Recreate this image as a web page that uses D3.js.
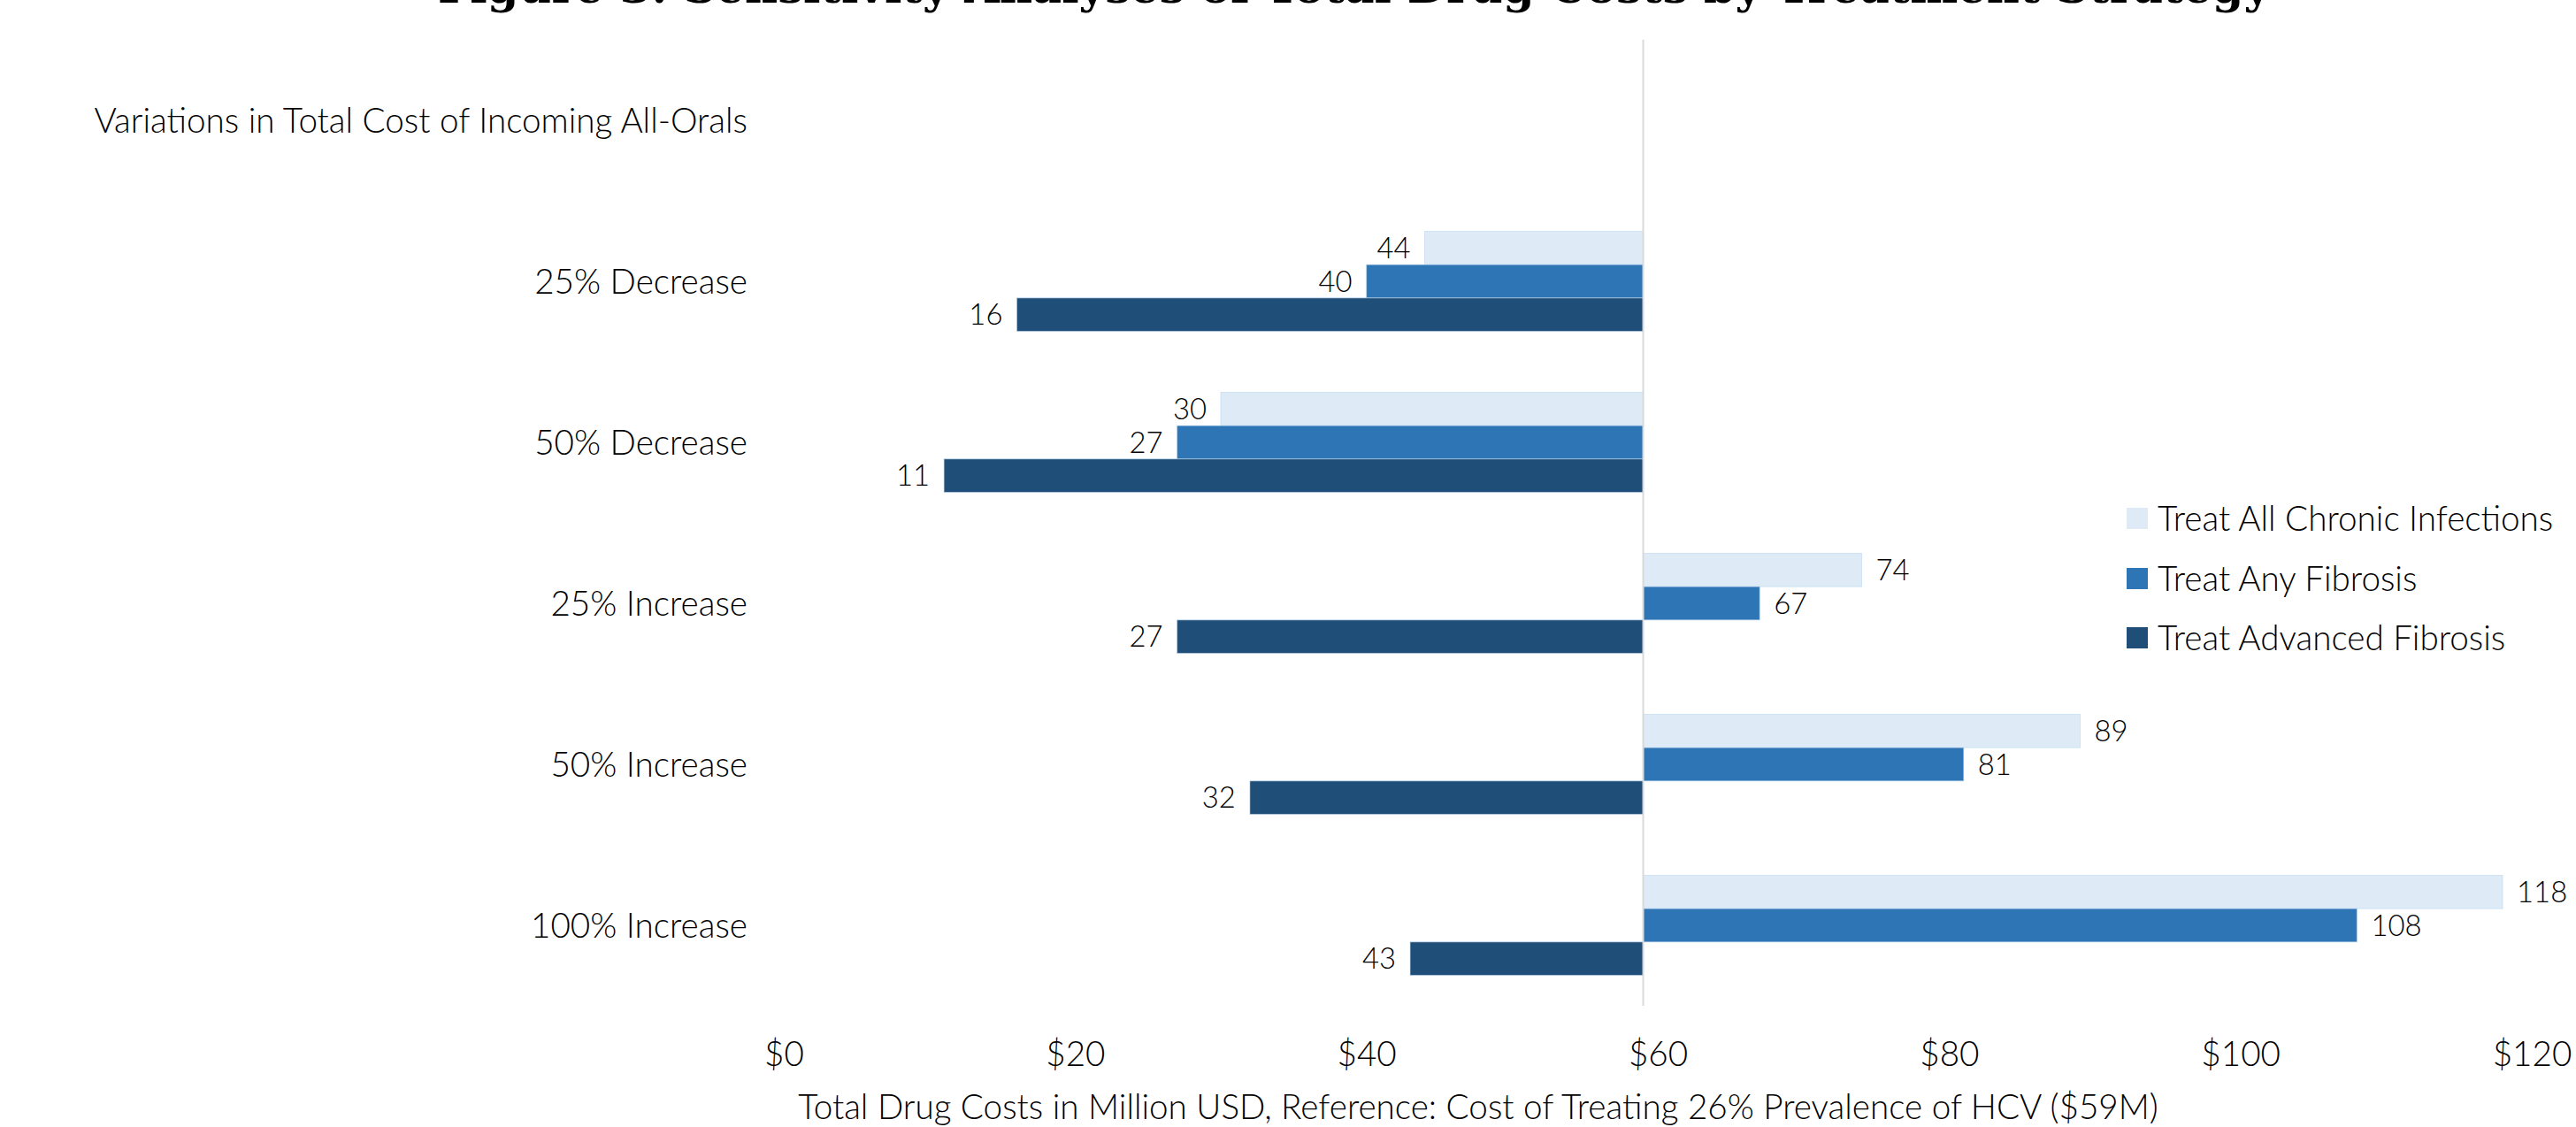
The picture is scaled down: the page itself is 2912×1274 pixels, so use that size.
<!DOCTYPE html>
<html><head><meta charset="utf-8">
<script src="https://cdn.jsdelivr.net/npm/d3@7"></script>
<style>
body{margin:0;background:#fff;}
svg{display:block;}
.lbl{font-family:Lato,"Open Sans",sans-serif;font-weight:300;fill:#000;}
.ttl{font-family:"DejaVu Serif",serif;font-weight:bold;fill:#000;}
</style>
</head><body>
<svg id="chart" width="2912" height="1274"></svg>
<script>
// ---------- data ----------
const chartTitle = "Figure 3: Sensitivity Analyses of Total Drug Costs by Treatment Strategy";
const categories = ["Variations in Total Cost of Incoming All-Orals","25% Decrease","50% Decrease","25% Increase","50% Increase","100% Increase"];
const seriesNames = ["Treat All Chronic Infections","Treat Any Fibrosis","Treat Advanced Fibrosis"];
const treatAllChronic = [null,44,30,74,89,118];
const treatAnyFibrosis = [null,40,27,67,81,108];
const treatAdvancedFibrosis = [null,16,11,27,32,43];
const referenceCost = 59;
const xTicks = [0,20,40,60,80,100,120];
const xAxisTitle = "Total Drug Costs in Million USD, Reference: Cost of Treating 26% Prevalence of HCV ($59M)";
const seriesColors = ["#DEEBF7","#2E75B6","#1F4E79"];

const seriesValues = [treatAllChronic, treatAnyFibrosis, treatAdvancedFibrosis];

// ---------- layout ----------
const svg = d3.select("#chart");
const x = d3.scaleLinear().domain([0,120]).range([886,2862]);
const y = d3.scaleBand().domain(categories).range([45,1137]).padding(0);
const y1 = d3.scaleBand().domain(seriesNames).range([0,y.bandwidth()]).paddingInner(0).paddingOuter(0.916);

// bars
const rows = [];
categories.forEach((c,ci)=>{
  seriesNames.forEach((s,si)=>{
    const v = seriesValues[si][ci];
    if (v!=null) rows.push({cat:c, series:s, si, v});
  });
});

const gBars = svg.append("g");
gBars.selectAll("rect").data(rows).join("rect")
  .attr("x", d=>Math.min(x(referenceCost), x(d.v)))
  .attr("width", d=>Math.abs(x(d.v)-x(referenceCost)))
  .attr("y", d=>y(d.cat)+y1(d.series))
  .attr("height", y1.bandwidth())
  .attr("fill", d=>seriesColors[d.si])
  .attr("stroke", "#BDD7EE").attr("stroke-opacity",0.6).attr("stroke-width",1);

// reference (category axis) line
svg.append("line")
  .attr("x1", x(referenceCost)).attr("x2", x(referenceCost))
  .attr("y1", y.range()[0]).attr("y2", y.range()[1])
  .attr("stroke","#D9D9D9").attr("stroke-width",2);

// data labels
const gLab = svg.append("g");
gLab.selectAll("text").data(rows).join("text")
  .attr("class","lbl dl")
  .attr("x", d=> d.v<referenceCost ? x(d.v)-16 : x(d.v)+16)
  .attr("y", d=>y(d.cat)+y1(d.series)+y1.bandwidth()/2)
  .attr("dy","0.36em")
  .attr("text-anchor", d=> d.v<referenceCost ? "end":"start")
  .text(d=>d.v);

// x axis
const gx = svg.append("g").attr("transform","translate(0,1205)")
  .call(d3.axisBottom(x).tickValues(xTicks).tickFormat(d=>"$"+d).tickSize(0));
gx.select(".domain").remove();
gx.selectAll("text").attr("y",0).attr("dy",null).attr("class","lbl");
gx.attr("font-family",null).attr("font-size",null);

// category axis
const gy = svg.append("g").attr("transform","translate(845,0)")
  .call(d3.axisLeft(y).tickSize(0).tickPadding(0));
gy.select(".domain").remove();
gy.selectAll("text").attr("class","lbl").attr("dy","0.36em");
gy.attr("font-family",null).attr("font-size",null);

// axis title
const axTitle = svg.append("text").attr("class","lbl")
  .attr("x",1671).attr("y",1265).attr("text-anchor","middle").text(xAxisTitle);

// legend
const legend = svg.append("g").attr("transform","translate(2404,0)");
const legY = [586,654,721];
const li = legend.selectAll("g").data(seriesNames).join("g")
  .attr("transform",(d,i)=>`translate(0,${legY[i]})`);
li.append("rect").attr("x",0).attr("y",-12).attr("width",24).attr("height",24)
  .attr("fill",(d,i)=>seriesColors[i]);
li.append("text").attr("class","lbl").attr("x",35).attr("dy","0.36em").text(d=>d);

// title (cropped at top edge, as in the reference)
const t = svg.append("text").attr("class","ttl").attr("x",495).attr("y",3).text(chartTitle);

// ---------- font fitting ----------
axTitle.style("font-size","40px");
const s = 40*1538/axTitle.node().getComputedTextLength();
svg.selectAll(".lbl").style("font-size", s+"px");
svg.selectAll(".dl").style("font-size", (s*0.85)+"px");
t.style("font-size","50px");
const ts = 50*2072/t.node().getComputedTextLength();
t.style("font-size", ts+"px");
</script>
</body></html>
